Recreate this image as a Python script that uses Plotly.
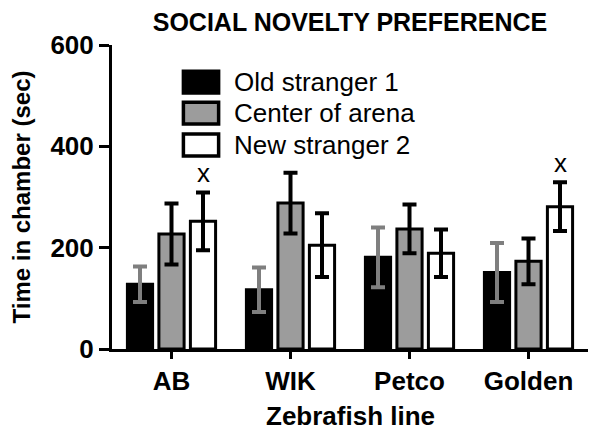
import plotly.graph_objects as go

lines = ["AB", "WIK", "Petco", "Golden"]
series = ["Old stranger 1", "Center of arena", "New stranger 2"]

old_mean = [128, 117, 181, 151]
old_err = [35, 44, 59, 58]
center_mean = [227, 288, 237, 173]
center_err = [60, 60, 48, 45]
new_mean = [252, 205, 189, 281]
new_err = [57, 63, 47, 48]

marks = ["x", "", "", "x"]

fill = ["black", "#9c9c9c", "white"]
err_col = ["#7f7f7f", "black", "black"]

font = "Liberation Sans, Arial, sans-serif"

fig = go.Figure()
for name, m, e, fc, ec in zip(series,
                              [old_mean, center_mean, new_mean],
                              [old_err, center_err, new_err],
                              fill, err_col):
    fig.add_trace(go.Bar(
        name=name, x=lines, y=m, showlegend=False,
        marker=dict(color=fc, line=dict(color="black", width=3)),
        error_y=dict(type="data", array=e, color=ec, thickness=4, width=7),
    ))

# "x" marks above the New stranger 2 bars
for cat, mk, m, e in zip(lines, marks, new_mean, new_err):
    if mk:
        fig.add_annotation(x=cat, y=m + e, text=mk, showarrow=False,
                           xshift=32, yanchor="bottom", yshift=2,
                           font=dict(size=26, color="black", family=font))

# legend drawn by hand so the swatches can be large
row_top = [0.914, 0.812, 0.707]
row_h = 0.072
for name, fc, top in zip(series, fill, row_top):
    fig.add_shape(type="rect", xref="paper", yref="paper",
                  x0=0.150, x1=0.224, y0=top - row_h, y1=top,
                  fillcolor=fc, line=dict(color="black", width=3.5))
    fig.add_annotation(xref="paper", yref="paper", x=0.252,
                       y=top - row_h / 2, text=name, showarrow=False,
                       xanchor="left", yanchor="middle",
                       font=dict(size=26, color="black", family=font))

# x axis title
fig.add_annotation(xref="paper", yref="paper", x=0.5, y=-0.222,
                   text="Zebrafish line", showarrow=False,
                   xanchor="center", yanchor="middle",
                   font=dict(size=26, color="black", family=font,
                             weight="bold"))

# the page body adds an 8px margin, so the figure is 8px smaller
fig.update_layout(
    width=592, height=425,
    margin=dict(l=104, r=12, t=37, b=84),
    paper_bgcolor="white", plot_bgcolor="white",
    barmode="group", bargap=0.206, bargroupgap=0.2,
    font=dict(family=font, color="black"),
    title=dict(text="SOCIAL NOVELTY PREFERENCE", x=0.5, xref="paper",
               xanchor="center", y=1, yanchor="top", yref="container",
               pad=dict(t=5, b=0),
               font=dict(size=25, weight="bold")),
    xaxis=dict(showline=True, linecolor="black", linewidth=3,
               ticks="outside", ticklen=7, tickwidth=3, tickcolor="black",
               automargin=False,
               tickfont=dict(size=26, weight="bold")),
    yaxis=dict(range=[0, 600], tickvals=[0, 200, 400, 600],
               showline=True, linecolor="black", linewidth=3,
               ticks="outside", ticklen=10, tickwidth=3, tickcolor="black",
               showgrid=False, zeroline=False, automargin=False,
               tickfont=dict(size=26, weight="bold"),
               title=dict(text="Time in chamber (sec)",
                          font=dict(size=24, weight="bold"), standoff=14)),
)

fig.write_html("out.html")
